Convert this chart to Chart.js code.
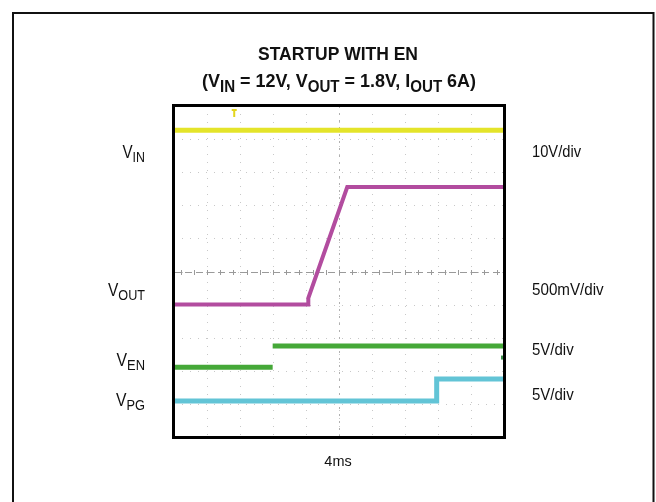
<!DOCTYPE html>
<html>
<head>
<meta charset="utf-8">
<script src="https://cdn.jsdelivr.net/npm/chart.js@4/dist/chart.umd.min.js"></script>
<style>
  html, body { margin: 0; padding: 0; background: #ffffff; }
  #wrap { width: 656px; height: 502px; position: relative; }
  canvas { display: block; }
</style>
</head>
<body>
<div id="wrap"><canvas id="c" width="656" height="502"></canvas></div>
<script>
// ---- data (time in ms, 4 ms/div; amplitude in screen divisions) ----
const vinTime  = [0, 40];
const vinDiv   = [4.27, 4.27];
const voutTime = [0, 16.28, 16.28, 21.0, 40];
const voutDiv  = [-1.0, -1.0, -0.8, 2.55, 2.55];
const venTime  = [0, 11.96, 11.96, 11.96, 40];
const venDiv   = [-2.89, -2.89, null, -2.25, -2.25];
const vpgTime  = [0, 31.84, 31.84, 40];
const vpgDiv   = [-3.91, -3.91, -3.25, -3.25];

const titleLine1 = "STARTUP WITH EN";
const timeLabel = "4ms";
const channelNames = [["V","IN"],["V","OUT"],["V","EN"],["V","PG"]];
const scaleLabels = ["10V/div","500mV/div","5V/div","5V/div"];

function pts(t, v) { return t.map((x, i) => ({ x: x, y: v[i] })); }

const FONT = "'Liberation Sans', Arial, Helvetica, sans-serif";

function drawRich(ctx, segs, x, baseline, targetW, align) {
  let total = 0;
  const ws = segs.map(s => {
    ctx.font = (s.bold ? "bold " : "") + s.size + "px " + FONT;
    const w = ctx.measureText(s.t).width;
    total += w; return w;
  });
  const sc = targetW / total;
  let left = x;
  if (align === "right") left = x - targetW;
  if (align === "center") left = x - targetW / 2;
  ctx.save();
  ctx.translate(left, baseline);
  ctx.scale(sc, 1);
  let cx = 0;
  segs.forEach((s, i) => {
    ctx.font = (s.bold ? "bold " : "") + s.size + "px " + FONT;
    ctx.fillStyle = "#111";
    ctx.textBaseline = "alphabetic";
    ctx.textAlign = "left";
    ctx.fillText(s.t, cx, s.dy || 0);
    cx += ws[i];
  });
  ctx.restore();
}

const scopePlugin = {
  id: "scope",
  beforeDatasetsDraw(chart) {
    const ctx = chart.ctx, xs = chart.scales.x, ys = chart.scales.y;
    const a = chart.chartArea;
    ctx.save();
    // dotted grid
    ctx.strokeStyle = "#c8c8c8";
    ctx.lineWidth = 1;
    ctx.setLineDash([1, 7]);
    for (let t = 4; t < 40; t += 4) {
      const px = Math.round(xs.getPixelForValue(t)) + 0.5;
      ctx.beginPath(); ctx.moveTo(px, a.top); ctx.lineTo(px, a.bottom); ctx.stroke();
    }
    for (let d = -4; d <= 4; d += 1) {
      const py = Math.round(ys.getPixelForValue(d)) + 0.5;
      ctx.beginPath(); ctx.moveTo(a.left, py); ctx.lineTo(a.right, py); ctx.stroke();
    }
    // center cross
    ctx.strokeStyle = "#9a9a9a";
    ctx.setLineDash([7, 4]);
    const cy = Math.round(ys.getPixelForValue(0)) + 0.5;
    const cxp = Math.round(xs.getPixelForValue(20)) + 0.5;
    ctx.beginPath(); ctx.moveTo(a.left, cy); ctx.lineTo(a.right, cy); ctx.stroke();
    ctx.setLineDash([2, 5]);
    ctx.strokeStyle = "#b0b0b0";
    ctx.beginPath(); ctx.moveTo(cxp, a.top); ctx.lineTo(cxp, a.bottom); ctx.stroke();
    ctx.setLineDash([]);
    ctx.strokeStyle = "#9a9a9a";
    for (let t = 0.8; t < 40; t += 1.6) {
      const px = Math.round(xs.getPixelForValue(t)) + 0.5;
      ctx.beginPath(); ctx.moveTo(px, cy - 2.5); ctx.lineTo(px, cy + 2.5); ctx.stroke();
    }
    ctx.restore();
  },
  afterDatasetsDraw(chart) {
    const ctx = chart.ctx, xs = chart.scales.x, ys = chart.scales.y;
    const a = chart.chartArea;
    ctx.save();
    // trigger marker
    const tx = xs.getPixelForValue(7.3), ty = a.top + 3;
    ctx.strokeStyle = "#e3d51e"; ctx.lineWidth = 2;
    ctx.beginPath(); ctx.moveTo(tx - 2.5, ty + 1); ctx.lineTo(tx + 2.5, ty + 1);
    ctx.moveTo(tx, ty + 1); ctx.lineTo(tx, ty + 8); ctx.stroke();
    // channel marker (EN) at right edge
    const my = ys.getPixelForValue(-2.6);
    ctx.fillStyle = "#3c8f4a";
    ctx.fillRect(a.right - 3, my - 2, 3, 4);
    // plot frame
    ctx.strokeStyle = "#000"; ctx.lineWidth = 3;
    ctx.strokeRect(a.left - 0.5, a.top - 0.5, a.right - a.left + 1, a.bottom - a.top + 1);
    // outer border (open at bottom)
    ctx.strokeStyle = "#111"; ctx.lineWidth = 2;
    ctx.beginPath();
    ctx.moveTo(13, 502); ctx.lineTo(13, 13); ctx.lineTo(653.5, 13); ctx.lineTo(653.5, 502);
    ctx.stroke();
    ctx.restore();

    // titles
    drawRich(ctx, [{ t: titleLine1, size: 19, bold: true }], 258, 60, 160, "left");
    drawRich(ctx, [
      { t: "(V", size: 19, bold: true },
      { t: "IN", size: 16, bold: true, dy: 5 },
      { t: " = 12V, V", size: 19, bold: true },
      { t: "OUT", size: 16, bold: true, dy: 5 },
      { t: " = 1.8V, I", size: 19, bold: true },
      { t: "OUT", size: 16, bold: true, dy: 5 },
      { t: " 6A)", size: 19, bold: true }
    ], 202, 87, 274, "left");

    // channel names (left)
    const leftBase = [157.5, 296, 366, 405.5];
    const leftW = [22.5, 37, 28.5, 29];
    channelNames.forEach((n, i) => {
      drawRich(ctx, [
        { t: n[0], size: 19 },
        { t: n[1], size: 15.5, dy: 4 }
      ], 145, leftBase[i], leftW[i], "right");
    });
    // scale labels (right)
    const rightBase = [156.5, 295, 355, 400];
    const rightW = [49, 71.7, 41.7, 41.7];
    scaleLabels.forEach((s, i) => {
      drawRich(ctx, [{ t: s, size: 16 }], 532, rightBase[i], rightW[i], "left");
    });
    // time base
    drawRich(ctx, [{ t: timeLabel, size: 15.5 }], 338, 466, 27.3, "center");
  }
};

const common = { pointRadius: 0, tension: 0, borderCapStyle: "butt", borderJoinStyle: "miter", spanGaps: false, fill: false };

new Chart(document.getElementById("c"), {
  type: "line",
  data: {
    datasets: [
      Object.assign({ label: "VIN",  data: pts(vinTime, vinDiv),   borderColor: "#e4e42a", borderWidth: 5 }, common),
      Object.assign({ label: "VOUT", data: pts(voutTime, voutDiv), borderColor: "#b24c9f", borderWidth: 4 }, common),
      Object.assign({ label: "VEN",  data: pts(venTime, venDiv),   borderColor: "#45a838", borderWidth: 5 }, common),
      Object.assign({ label: "VPG",  data: pts(vpgTime, vpgDiv),   borderColor: "#62c4d6", borderWidth: 5 }, common)
    ]
  },
  options: {
    responsive: false,
    animation: false,
    events: [],
    layout: { padding: { left: 174, right: 152, top: 106, bottom: 65 } },
    plugins: { legend: { display: false }, title: { display: false }, tooltip: { enabled: false } },
    scales: {
      x: { type: "linear", min: 0, max: 40, display: false },
      y: { type: "linear", min: -5, max: 5, display: false }
    }
  },
  plugins: [scopePlugin]
});
</script>
</body>
</html>
